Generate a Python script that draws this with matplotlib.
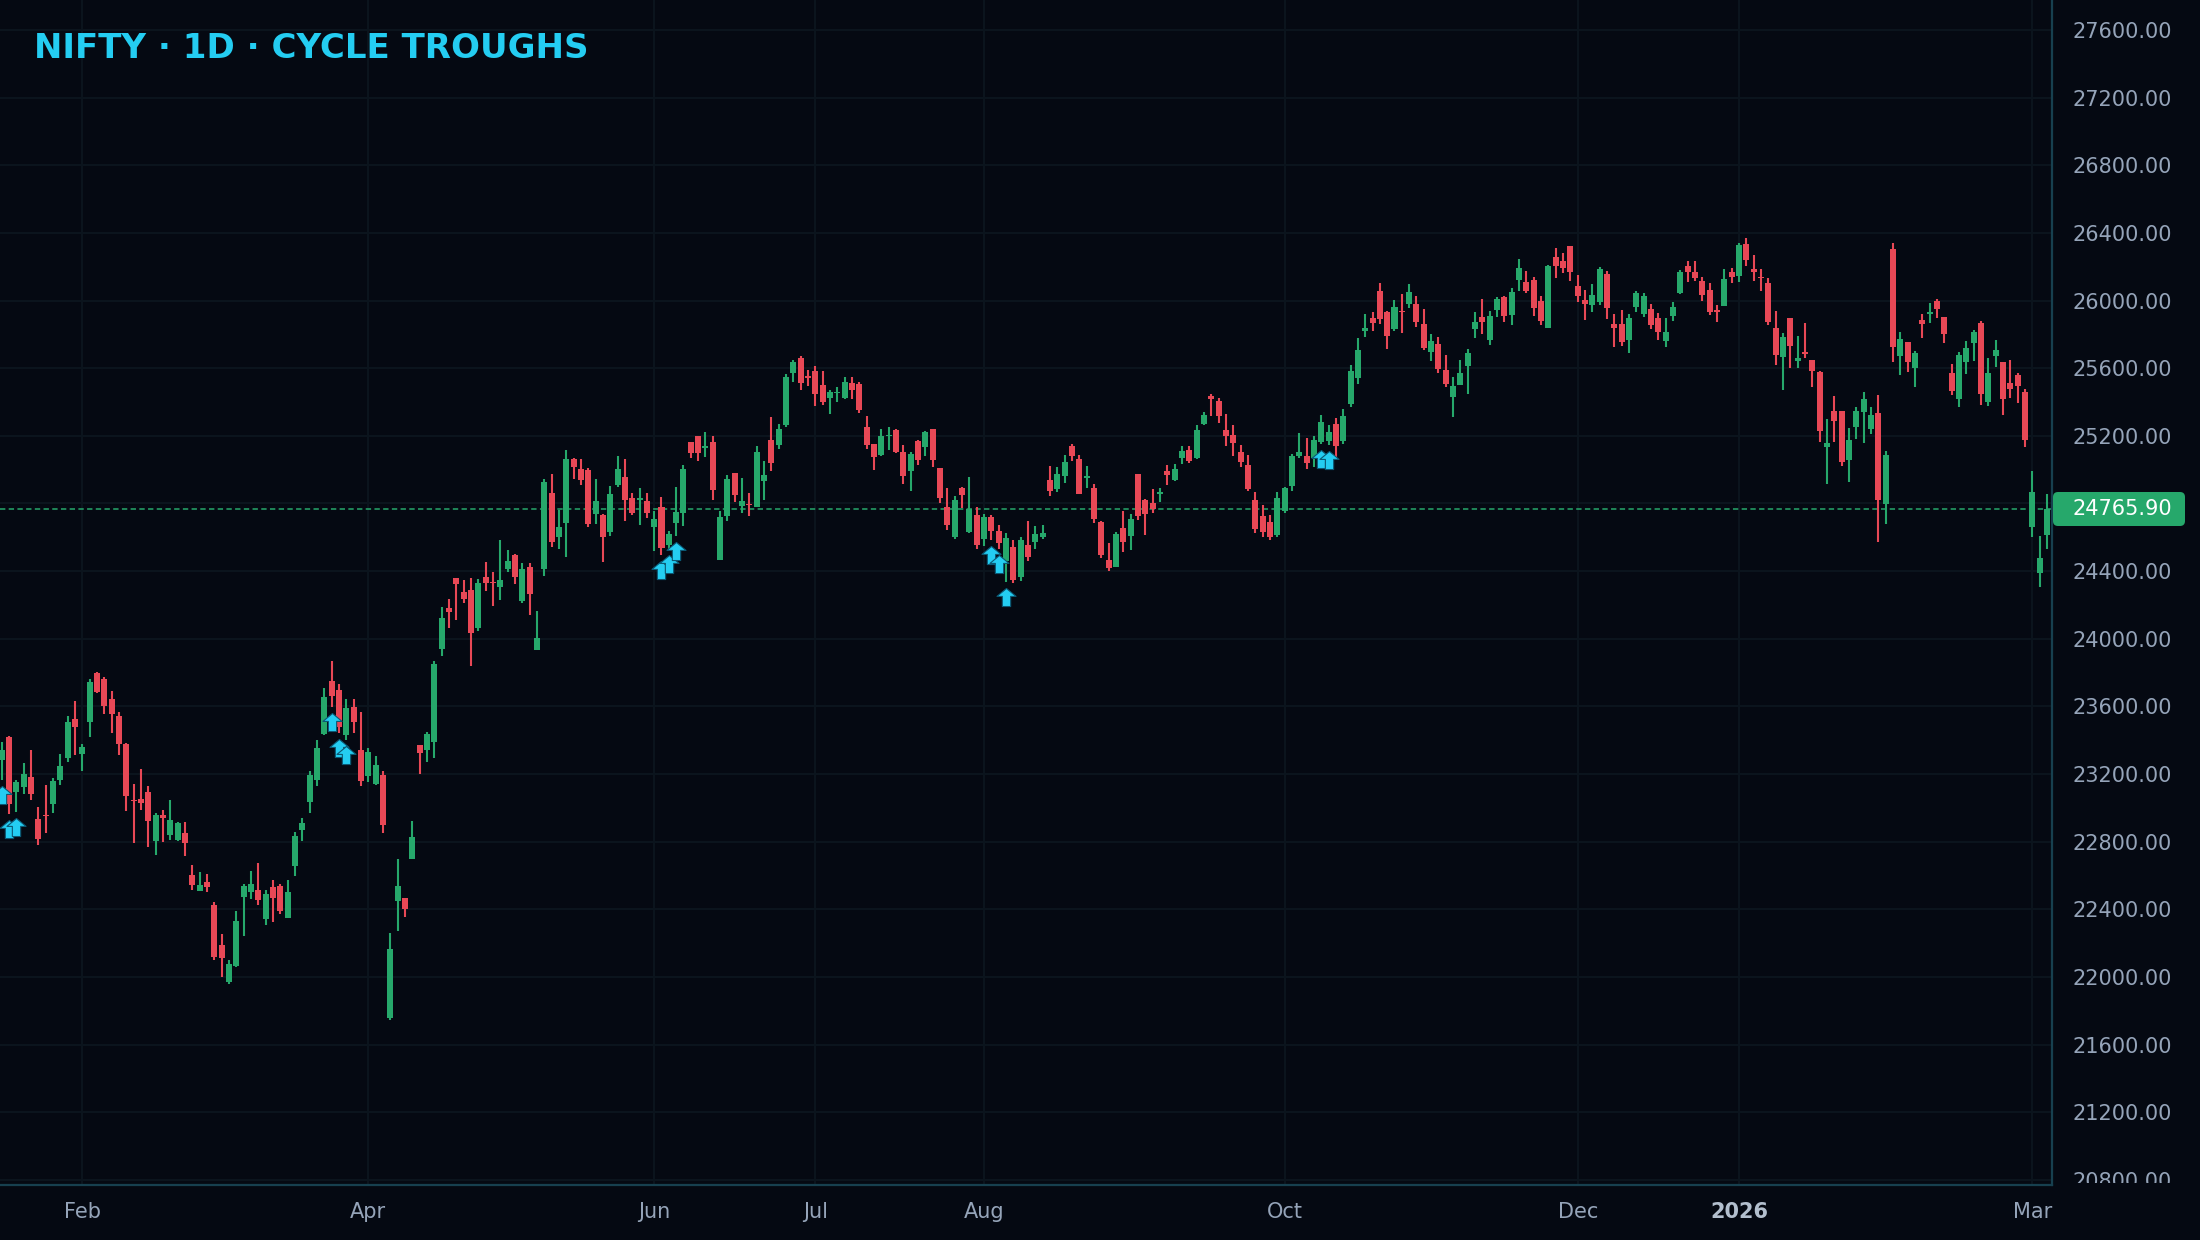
import matplotlib
matplotlib.use('Agg')
import matplotlib.pyplot as plt
import numpy as np
from matplotlib.path import Path
from matplotlib.patches import FancyBboxPatch, Rectangle
from matplotlib.transforms import IdentityTransform

# daily NIFTY candles (one entry per trading day)
opens = [
    23285, 23419, 23091, 23121, 23184, 22936, 22959, 23020, 23162, 23292,
    23527, 23316, 23505, 23799, 23763, 23645, 23545, 23379, 23048, 23054,
    23095, 22802, 22959, 22837, 22812, 22853, 22605, 22506, 22563, 22427,
    22191, 21968, 22063, 22471, 22500, 22516, 22341, 22534, 22540, 22346,
    22659, 22870, 23034, 23163, 23439, 23750, 23698, 23429, 23599, 23340,
    23188, 23143, 23194, 21759, 22449, 22465, 22696, 23370, 23342, 23392,
    23941, 24180, 24358, 24275, 24287, 24064, 24368, 24337, 24305, 24414,
    24497, 24222, 24426, 23931, 24412, 24862, 24604, 24687, 25063, 25004,
    24995, 24737, 24729, 24631, 24912, 24954, 24830, 24822, 24812, 24660,
    24782, 24554, 24684, 24743, 25161, 25196, 25129, 25161, 24465, 24725,
    24978, 24784, 24798, 24778, 24932, 25178, 25145, 25263, 25570, 25663,
    25551, 25586, 25503, 25423, 25452, 25421, 25515, 25509, 25255, 25149,
    25084, 25198, 25232, 25107, 24991, 25168, 25133, 25243, 25007, 24782,
    24601, 24889, 24634, 24729, 24589, 24717, 24640, 24459, 24540, 24364,
    24557, 24575, 24601, 24936, 24885, 24961, 25137, 25060, 24952, 24894,
    24693, 24463, 24423, 24652, 24607, 24977, 24818, 24800, 24857, 24989,
    24938, 25068, 25119, 25066, 25268, 25438, 25408, 25237, 25207, 25107,
    25030, 24818, 24723, 24688, 24613, 24755, 24906, 25078, 25078, 25068,
    25162, 25168, 25272, 25172, 25386, 25540, 25817, 25898, 26058, 25934,
    25833, 25940, 25977, 25981, 25863, 25694, 25745, 25591, 25428, 25499,
    25611, 25829, 25904, 25765, 25941, 26022, 25912, 26124, 26110, 26122,
    25998, 25835, 26257, 26233, 26322, 26086, 26004, 25976, 25994, 26157,
    25863, 25863, 25765, 25963, 25923, 25951, 25898, 25759, 25906, 26047,
    26204, 26169, 26116, 26063, 25943, 25965, 26169, 26147, 26333, 26186,
    26141, 26104, 25839, 25665, 25898, 25641, 25694, 25651, 25580, 25135,
    25345, 25345, 25059, 25253, 25341, 25241, 25333, 24794, 26304, 25671,
    25757, 25600, 25886, 25923, 25998, 25904, 25569, 25418, 25635, 25747,
    25869, 25400, 25671, 25639, 25510, 25557, 25457, 24659, 24388, 24612,
]
highs = [
    23391, 23426, 23166, 23267, 23344, 23007, 23137, 23178, 23320, 23545,
    23633, 23379, 23763, 23805, 23775, 23693, 23568, 23385, 23143, 23231,
    23131, 22971, 22989, 23048, 22918, 22918, 22664, 22622, 22611, 22445,
    22256, 22102, 22392, 22551, 22628, 22676, 22516, 22575, 22551, 22575,
    22858, 22941, 23216, 23404, 23710, 23870, 23734, 23645, 23645, 23564,
    23352, 23305, 23216, 22259, 22700, 22469, 22923, 23370, 23451, 23870,
    24186, 24238, 24358, 24345, 24362, 24352, 24451, 24392, 24586, 24522,
    24503, 24445, 24445, 24163, 24945, 24975, 24764, 25117, 25069, 25063,
    25007, 24942, 24737, 24906, 25078, 25060, 24859, 24889, 24859, 24753,
    24841, 24640, 24895, 25025, 25161, 25196, 25220, 25196, 24753, 24966,
    24978, 24948, 24859, 25137, 25054, 25314, 25267, 25563, 25651, 25669,
    25592, 25610, 25586, 25468, 25486, 25545, 25545, 25521, 25320, 25149,
    25243, 25255, 25238, 25143, 25107, 25178, 25231, 25243, 25007, 24889,
    24847, 24900, 24954, 24782, 24735, 24729, 24670, 24628, 24581, 24599,
    24699, 24664, 24670, 25019, 25013, 25084, 25149, 25084, 25019, 24918,
    24699, 24569, 24634, 24753, 24735, 24977, 24829, 24883, 24889, 25030,
    25036, 25137, 25137, 25261, 25343, 25449, 25426, 25331, 25261, 25148,
    25089, 24865, 24788, 24729, 24865, 24900, 25095, 25219, 25190, 25196,
    25326, 25266, 25308, 25361, 25621, 25780, 25922, 25934, 26105, 25940,
    26004, 26040, 26099, 26028, 25951, 25804, 25786, 25680, 25550, 25650,
    25715, 25933, 26010, 25939, 26022, 26027, 26074, 26245, 26174, 26139,
    26027, 26212, 26310, 26280, 26322, 26151, 26063, 26098, 26198, 26174,
    25922, 25945, 25922, 26057, 26045, 25980, 25927, 25898, 25992, 26180,
    26233, 26233, 26139, 26104, 25974, 26186, 26192, 26339, 26369, 26269,
    26186, 26133, 25939, 25810, 25898, 25792, 25869, 25651, 25586, 25298,
    25433, 25345, 25245, 25369, 25457, 25369, 25439, 25110, 26339, 25816,
    25757, 25704, 25922, 25986, 26010, 25904, 25627, 25698, 25763, 25827,
    25880, 25663, 25769, 25639, 25651, 25574, 25474, 24992, 24606, 24857,
]
lows = [
    23162, 22965, 22973, 23083, 23044, 22778, 22849, 22967, 23133, 23269,
    23310, 23216, 23417, 23677, 23553, 23440, 23310, 22979, 22790, 22985,
    22766, 22719, 22796, 22808, 22806, 22713, 22512, 22506, 22500, 22098,
    21998, 21956, 22057, 22240, 22459, 22423, 22305, 22323, 22370, 22346,
    22595, 22805, 22969, 23129, 23429, 23595, 23445, 23404, 23445, 23129,
    23151, 23137, 22852, 21743, 22273, 22352, 22696, 23200, 23269, 23295,
    23900, 24062, 24111, 24212, 23839, 24046, 24281, 24194, 24228, 24394,
    24321, 24210, 24139, 23931, 24370, 24540, 24530, 24485, 24945, 24910,
    24660, 24678, 24453, 24607, 24897, 24696, 24731, 24672, 24713, 24518,
    24493, 24532, 24607, 24666, 25068, 25050, 25074, 24820, 24465, 24696,
    24808, 24743, 24725, 24778, 24820, 24991, 25121, 25251, 25517, 25470,
    25494, 25375, 25381, 25328, 25399, 25415, 25417, 25334, 25121, 24997,
    25080, 25115, 25098, 24914, 24873, 25027, 25080, 25015, 24802, 24642,
    24589, 24772, 24628, 24530, 24548, 24583, 24530, 24335, 24329, 24341,
    24459, 24530, 24589, 24843, 24867, 24920, 25050, 24855, 24890, 24684,
    24477, 24400, 24423, 24512, 24524, 24701, 24613, 24743, 24808, 24908,
    24932, 25032, 25042, 25060, 25266, 25320, 25278, 25142, 25078, 25018,
    24873, 24625, 24601, 24582, 24601, 24743, 24871, 25066, 25001, 25018,
    25150, 25144, 25066, 25150, 25369, 25505, 25782, 25817, 25859, 25711,
    25821, 25806, 25953, 25841, 25705, 25640, 25570, 25487, 25310, 25499,
    25446, 25776, 25800, 25735, 25900, 25871, 25853, 26059, 26047, 25906,
    25853, 25835, 26135, 26165, 26118, 25994, 25882, 25935, 25976, 25888,
    25723, 25729, 25688, 25935, 25900, 25829, 25765, 25723, 25876, 26041,
    26112, 26118, 26000, 25912, 25871, 25965, 26106, 26112, 26206, 26118,
    26059, 25853, 25618, 25471, 25600, 25600, 25659, 25488, 25165, 24917,
    25165, 25023, 24929, 25182, 25159, 25212, 24570, 24676, 25635, 25559,
    25576, 25488, 25776, 25865, 25894, 25747, 25441, 25370, 25565, 25641,
    25382, 25376, 25606, 25323, 25423, 25394, 25135, 24600, 24306, 24529,
]
closes = [
    23344, 23020, 23154, 23202, 23083, 22817, 22951, 23160, 23249, 23509,
    23476, 23361, 23742, 23687, 23600, 23553, 23375, 23068, 23040, 23026,
    22920, 22959, 22938, 22930, 22912, 22790, 22545, 22545, 22534, 22116,
    22110, 22078, 22333, 22540, 22551, 22453, 22492, 22465, 22388, 22504,
    22834, 22910, 23194, 23352, 23657, 23663, 23479, 23593, 23510, 23157,
    23333, 23252, 22898, 22164, 22540, 22402, 22830, 23323, 23435, 23852,
    24121, 24159, 24323, 24238, 24036, 24327, 24327, 24329, 24345, 24457,
    24368, 24410, 24265, 24003, 24927, 24570, 24663, 25063, 25016, 24939,
    24678, 24812, 24601, 24853, 25001, 24818, 24743, 24830, 24743, 24711,
    24534, 24617, 24747, 25001, 25098, 25098, 25137, 24879, 24717, 24942,
    24849, 24812, 24790, 25107, 24971, 25038, 25243, 25545, 25639, 25511,
    25543, 25446, 25399, 25462, 25460, 25521, 25470, 25350, 25145, 25074,
    25196, 25206, 25102, 24961, 25090, 25056, 25220, 25056, 24831, 24672,
    24818, 24849, 24766, 24557, 24717, 24640, 24565, 24593, 24350, 24581,
    24482, 24617, 24628, 24873, 24977, 25048, 25080, 24857, 24960, 24707,
    24494, 24417, 24622, 24571, 24711, 24725, 24737, 24766, 24865, 24967,
    25001, 25113, 25050, 25237, 25325, 25416, 25320, 25196, 25160, 25048,
    24883, 24649, 24629, 24601, 24835, 24889, 25078, 25107, 25038, 25178,
    25284, 25225, 25139, 25320, 25585, 25709, 25839, 25865, 25888, 25788,
    25963, 25932, 26052, 25871, 25717, 25762, 25593, 25505, 25493, 25573,
    25692, 25874, 25871, 25910, 26010, 25906, 26051, 26192, 26059, 25953,
    25876, 26206, 26206, 26194, 26171, 26024, 25982, 26033, 26186, 25953,
    25835, 25753, 25898, 26045, 26027, 25853, 25812, 25816, 25963, 26169,
    26171, 26133, 26035, 25935, 25935, 26127, 26141, 26327, 26241, 26171,
    26133, 25871, 25676, 25786, 25729, 25663, 25686, 25582, 25229, 25157,
    25288, 25047, 25174, 25345, 25416, 25321, 24823, 25086, 25723, 25774,
    25635, 25692, 25859, 25931, 25947, 25800, 25465, 25680, 25722, 25816,
    25447, 25569, 25710, 25418, 25476, 25494, 25176, 24868, 24480, 24765.90,
]

# first trading day of the labelled months (bar index) and their labels
month_bars = [11, 50, 89, 111, 134, 175, 215, 237, 277]
month_labels = ['Feb', 'Apr', 'Jun', 'Jul', 'Aug', 'Oct', 'Dec', '2026', 'Mar']
# bars flagged as cycle troughs
trough_bars = [0, 1, 2, 45, 46, 47, 90, 91, 92, 135, 136, 137, 180, 181]
last_price = 24765.90

BG = '#050912'
GREEN = '#26a86b'
RED = '#e84856'
CYAN = '#24cdf2'
GRID = '#0b141d'
TEXT = '#95a4b9'
SPINE = '#17404f'

W, H = 2200, 1240
fig = plt.figure(figsize=(W / 100, H / 100), dpi=100, facecolor=BG)
ax = fig.add_axes([0, 55 / H, 2052 / W, 1185 / H], facecolor=BG)

o = np.array(opens, dtype=float)
h = np.array(highs, dtype=float)
l = np.array(lows, dtype=float)
c = np.array(closes, dtype=float)
x = np.arange(len(c))
colors = np.where(c >= o, GREEN, RED)

ymin, ymax = 20770, 27777
ax.set_xlim(-0.245, 279.7)
ax.set_ylim(ymin, ymax)

# candles
ax.vlines(x, l, h, colors=colors, linewidth=1.5, zorder=3)
ax.bar(x, np.maximum(np.abs(c - o), 8), bottom=np.minimum(o, c), width=0.82,
       color=colors, linewidth=0, zorder=4)

# last price line
ax.axhline(last_price, color=GREEN, lw=1.1, ls=(0, (3.5, 2.2)), zorder=2)

# trough arrows, placed a few pixels under the bar low
arrow = Path([(0, 0.5), (0.53, 0.06), (0.23, 0.06), (0.23, -0.5),
              (-0.23, -0.5), (-0.23, 0.06), (-0.53, 0.06), (0, 0.5)],
             [Path.MOVETO] + [Path.LINETO] * 6 + [Path.CLOSEPOLY])
px = (ymax - ymin) / 1185
tb = np.array(trough_bars)
ax.scatter(tb, l[tb] - 15 * px, marker=arrow, s=190, color=CYAN,
           edgecolors='#0b5874', linewidths=0.8, zorder=6)

# axes styling
yt = np.arange(20800, 27601, 400)
ax.set_yticks(yt)
ax.set_yticklabels(['' if v == 24800 else f'{v:.2f}' for v in yt])
ax.yaxis.tick_right()
ax.tick_params(axis='y', length=0, pad=14.4, labelsize=15, labelcolor=TEXT)
ax.set_xticks(month_bars)
ax.set_xticklabels(month_labels)
ax.tick_params(axis='x', length=0, pad=12.5, labelsize=15, labelcolor=TEXT)
for lab in ax.get_xticklabels():
    if lab.get_text() == '2026':
        lab.set_fontweight('bold')
        lab.set_color('#b3bfce')

ax.grid(True, color=GRID, lw=1.5)
ax.set_axisbelow(True)
for s in ['top', 'left']:
    ax.spines[s].set_visible(False)
for s in ['right', 'bottom']:
    ax.spines[s].set_color(SPINE)
    ax.spines[s].set_linewidth(1.6)

# hide the part of the lowest price label below the plot
fig.add_artist(Rectangle((2056, 0), 144, 57, transform=IdentityTransform(),
                         facecolor=BG, edgecolor='none', zorder=10))

# last price tag
fig.add_artist(FancyBboxPatch((2053, H - 526), 132, 34,
                              boxstyle='round,pad=0,rounding_size=5',
                              transform=IdentityTransform(),
                              facecolor=GREEN, edgecolor='none', zorder=11))
fig.text(2072 / W, 1 - 509 / H, f'{last_price:.2f}', color='white',
         fontsize=15, ha='left', va='center', zorder=12)

fig.text(34 / W, 1 - 58 / H, 'NIFTY · 1D · CYCLE TROUGHS', color=CYAN,
         fontsize=24.5, fontweight='bold', ha='left', va='baseline')

fig.savefig('out.png', dpi=100, facecolor=BG)
